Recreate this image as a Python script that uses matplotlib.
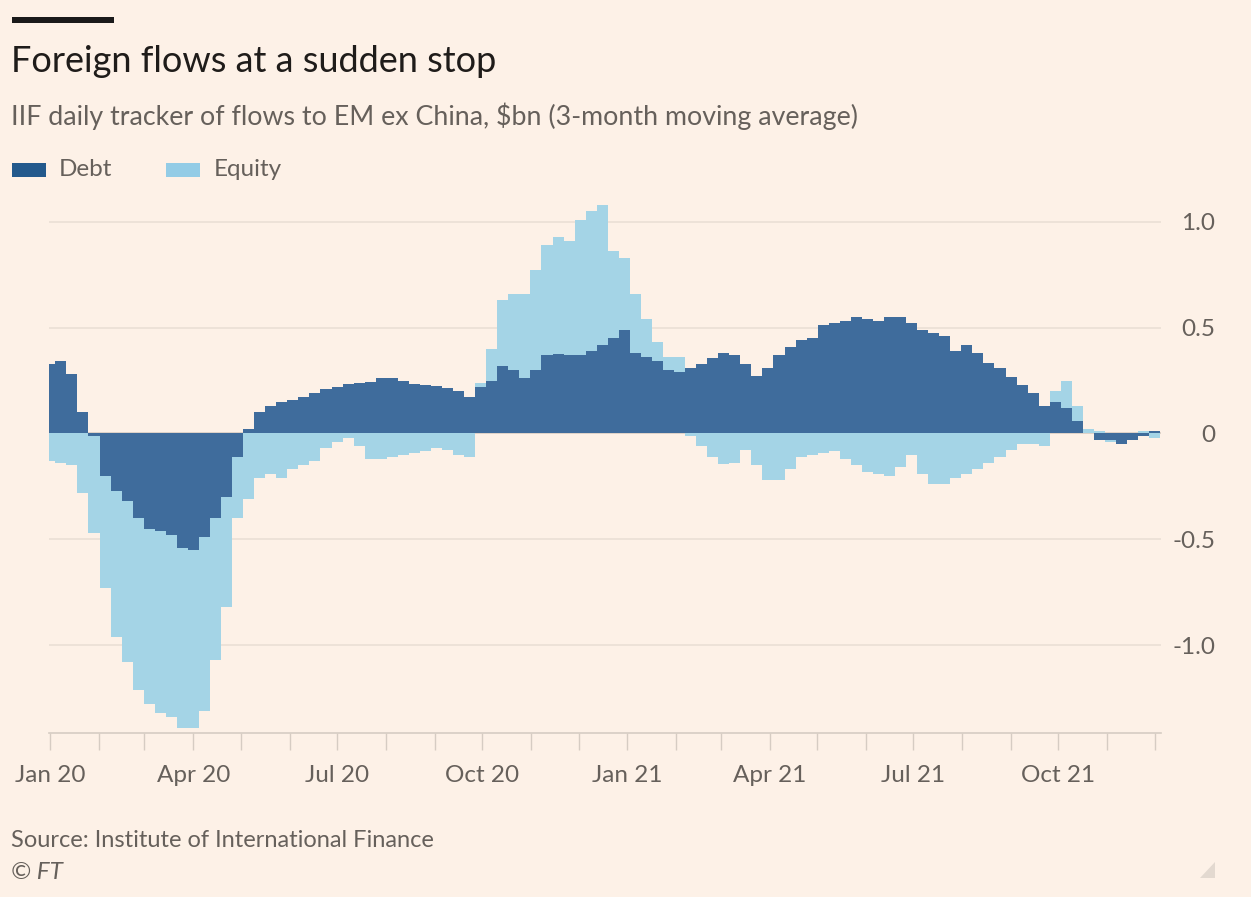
import matplotlib
matplotlib.use("Agg")
import matplotlib.pyplot as plt
import matplotlib.dates as mdates
import matplotlib.patches as mpatches
import numpy as np
import pandas as pd

# ---- data (weekly readings, $bn, 3-month moving average) ----
start_date = "2020-01-01"
n_weeks = 101
debt = [0.33, 0.34, 0.28, 0.10, -0.01, -0.20, -0.27, -0.32, -0.40, -0.45,
        -0.46, -0.48, -0.54, -0.55, -0.49, -0.40, -0.30, -0.11, 0.02, 0.10,
        0.13, 0.15, 0.16, 0.17, 0.19, 0.21, 0.22, 0.235, 0.24, 0.245,
        0.26, 0.26, 0.25, 0.235, 0.23, 0.225, 0.215, 0.20, 0.17, 0.22,
        0.25, 0.32, 0.30, 0.26, 0.30, 0.37, 0.375, 0.37, 0.37, 0.39,
        0.42, 0.45, 0.49, 0.38, 0.36, 0.34, 0.30, 0.29, 0.31, 0.33,
        0.355, 0.38, 0.37, 0.33, 0.27, 0.31, 0.37, 0.41, 0.44, 0.45,
        0.51, 0.52, 0.53, 0.55, 0.54, 0.53, 0.55, 0.55, 0.52, 0.49,
        0.475, 0.46, 0.39, 0.42, 0.38, 0.335, 0.31, 0.265, 0.23, 0.19,
        0.13, 0.15, 0.12, 0.06, 0.0, -0.03, -0.03, -0.05, -0.03, -0.01,
        0.01]
equity = [-0.13, -0.14, -0.15, -0.28, -0.46, -0.53, -0.69, -0.76, -0.81, -0.83,
          -0.86, -0.86, -0.85, -0.84, -0.82, -0.67, -0.52, -0.29, -0.31, -0.21,
          -0.19, -0.21, -0.17, -0.15, -0.13, -0.07, -0.04, -0.02, -0.06, -0.12,
          -0.12, -0.11, -0.10, -0.09, -0.085, -0.07, -0.08, -0.10, -0.11, 0.02,
          0.15, 0.31, 0.36, 0.40, 0.47, 0.52, 0.555, 0.54, 0.64, 0.66,
          0.66, 0.41, 0.34, 0.28, 0.18, 0.09, 0.06, 0.07, -0.01, -0.06,
          -0.11, -0.145, -0.14, -0.08, -0.15, -0.22, -0.22, -0.17, -0.11, -0.10,
          -0.09, -0.085, -0.12, -0.15, -0.18, -0.19, -0.20, -0.16, -0.10, -0.19,
          -0.24, -0.24, -0.21, -0.19, -0.17, -0.14, -0.11, -0.08, -0.05, -0.05,
          -0.06, 0.05, 0.13, 0.07, 0.02, 0.01, -0.01, 0.0, 0.0, 0.01,
          -0.02]
y_ticks = [-1.0, -0.5, 0, 0.5, 1.0]
y_tick_labels = ["-1.0", "-0.5", "0", "0.5", "1.0"]
quarter_labels = ["Jan 20", "Apr 20", "Jul 20", "Oct 20", "Jan 21", "Apr 21", "Jul 21", "Oct 21"]

# ---- style ----
BG = "#FDF1E7"
DEBT_C = "#3F6C9C"
EQ_C = "#A4D4E6"
GRID_C = "#EADFD5"
TEXT_C = "#66605B"
FONT = "Lato"

W, H = 1251, 897
fig = plt.figure(figsize=(W / 100, H / 100), dpi=100, facecolor=BG)

def fx(px):
    return px / W

def fy(py):
    return 1 - py / H

ax = fig.add_axes([fx(49), fy(733), fx(1161) - fx(49), fy(190) - fy(733)])
ax.set_facecolor(BG)

dates = pd.date_range(start_date, periods=n_weeks, freq="7D")
d = np.array(debt)
e = np.array(equity)
eq_bottom = np.where(np.sign(e) == np.sign(d), d, 0.0)

ax.bar(dates, d, width=7, color=DEBT_C, linewidth=0, zorder=3)
ax.bar(dates, e, width=7, bottom=eq_bottom, color=EQ_C, linewidth=0, zorder=3)

ax.set_ylim(-1.415, 1.15)
ax.set_xlim(pd.Timestamp("2019-12-31 12:00"), pd.Timestamp("2021-12-05"))

for yv in y_ticks:
    ax.axhline(yv, color=GRID_C if yv != 0 else "#D8CCC2", linewidth=1.2, zorder=1)

ax.yaxis.tick_right()
ax.set_yticks(y_ticks)
ax.set_yticklabels(y_tick_labels)
ax.tick_params(axis="y", length=0, pad=39, labelsize=17.5, labelcolor=TEXT_C)
for lab in ax.get_yticklabels():
    lab.set_horizontalalignment("right")
    lab.set_fontfamily(FONT)

ax.xaxis.set_major_locator(mdates.MonthLocator(bymonth=[1, 4, 7, 10]))
ax.xaxis.set_minor_locator(mdates.MonthLocator())
major_ticks = ax.get_xticks()
ax.set_xticks(major_ticks)
ax.set_xticklabels(quarter_labels)
ax.tick_params(axis="x", which="both", length=12, color="#D6CCC3", width=1,
               pad=11, labelsize=17.5, labelcolor=TEXT_C)
for lab in ax.get_xticklabels():
    lab.set_fontfamily(FONT)

for s in ["top", "left", "right"]:
    ax.spines[s].set_visible(False)
ax.spines["bottom"].set_color("#D6CCC3")
ax.spines["bottom"].set_linewidth(1.2)

# ---- titles & annotations ----
fig.add_artist(mpatches.Rectangle((fx(12), fy(23)), fx(114) - fx(12), fy(17) - fy(23),
                                  transform=fig.transFigure, color="#1A1A1A", linewidth=0))
fig.text(fx(11), fy(61), "Foreign flows at a sudden stop", fontsize=26, color="#1F1C1A",
         family=FONT, va="center", ha="left")
fig.text(fx(11), fy(116), "IIF daily tracker of flows to EM ex China, $bn (3-month moving average)",
         fontsize=19.3, color=TEXT_C, family=FONT, va="center", ha="left")

fig.add_artist(mpatches.Rectangle((fx(12), fy(177)), fx(46) - fx(12), fy(163) - fy(177),
                                  transform=fig.transFigure, color="#23598C", linewidth=0))
fig.text(fx(59), fy(170), "Debt", fontsize=17.5, color=TEXT_C, family=FONT, va="center")
fig.add_artist(mpatches.Rectangle((fx(166), fy(177)), fx(200) - fx(166), fy(163) - fy(177),
                                  transform=fig.transFigure, color="#93CCE6", linewidth=0))
fig.text(fx(214), fy(170), "Equity", fontsize=17.5, color=TEXT_C, family=FONT, va="center")

fig.text(fx(11), fy(840), "Source: Institute of International Finance", fontsize=17,
         color=TEXT_C, family=FONT, va="center")
fig.text(fx(11), fy(872), "© FT", fontsize=17.5, color=TEXT_C, family=FONT,
         style="italic", va="center")

fig.add_artist(mpatches.Polygon([(fx(1215), fy(878)), (fx(1215), fy(862)), (fx(1200), fy(878))],
                                closed=True, transform=fig.transFigure, color="#E3D9D0", linewidth=0))

fig.savefig("out.png", dpi=100, facecolor=BG)
